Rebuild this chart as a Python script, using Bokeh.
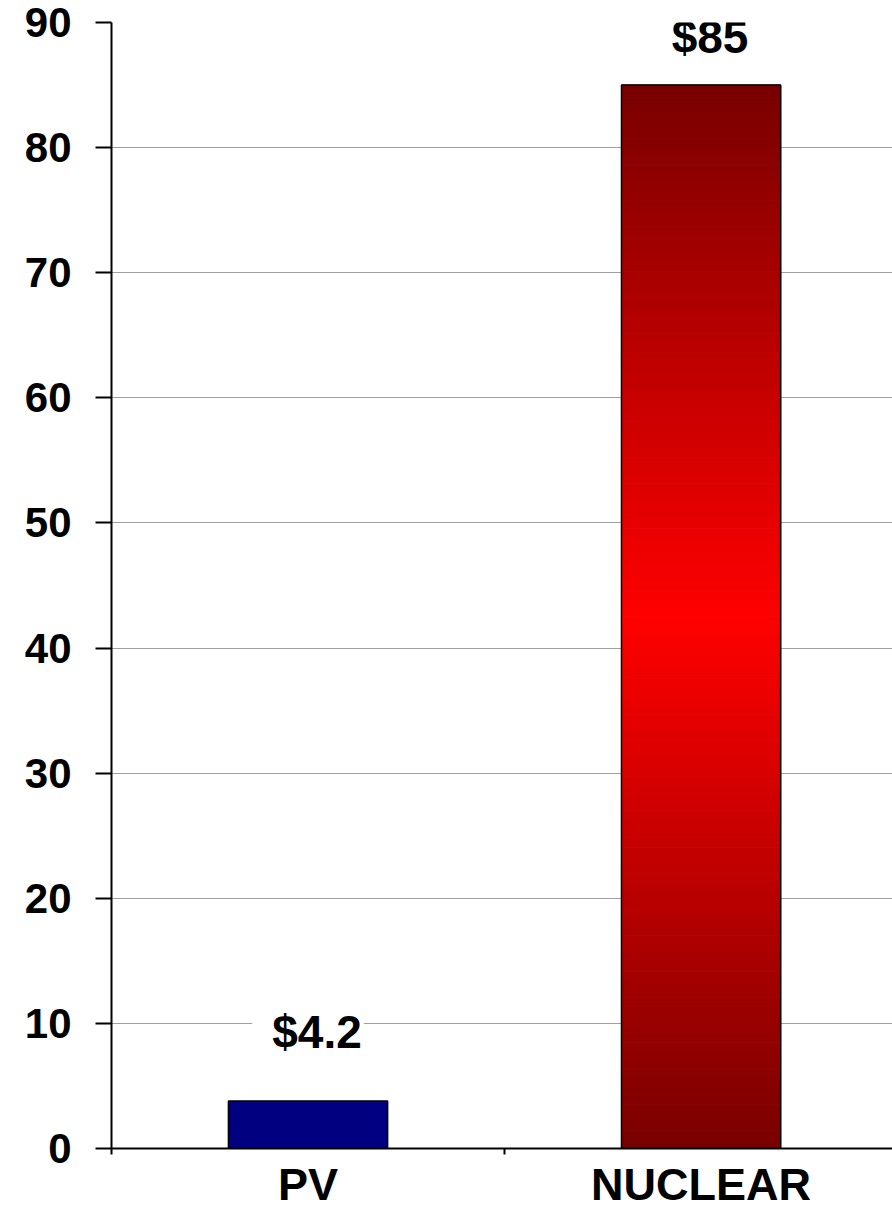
from bokeh.plotting import figure
from bokeh.models import Range1d, FixedTicker, Label
from bokeh.embed import file_html
from bokeh.resources import INLINE

categories = ["PV", "NUCLEAR"]
costs = [3.8, 85.0]
cost_labels = ["$4.2", "$85"]
y_ticks = [0, 10, 20, 30, 40, 50, 60, 70, 80, 90]

FONT = "Liberation Sans"
xpos = [i + 0.5 for i in range(len(categories))]
bar_w = 0.405
y_max = 90

p = figure(width=892, height=1212,
           x_range=Range1d(0, len(categories) - 0.013), y_range=Range1d(0, y_max),
           output_backend="svg", toolbar_location=None,
           min_border_left=111, min_border_right=0,
           min_border_top=22, min_border_bottom=64)
p.outline_line_color = None
p.background_fill_color = "white"
p.border_fill_color = "white"
p.xgrid.grid_line_color = None
p.ygrid.ticker = FixedTicker(ticks=y_ticks)
p.ygrid.grid_line_color = "#a0a0a0"
p.ygrid.grid_line_width = 1

# y axis
p.yaxis.ticker = FixedTicker(ticks=y_ticks)
p.yaxis.axis_line_width = 2
p.yaxis.axis_line_color = "black"
p.yaxis.major_tick_out = 16
p.yaxis.major_tick_in = 0
p.yaxis.major_tick_line_width = 2
p.yaxis.minor_tick_line_color = None
p.yaxis.major_label_standoff = 24
p.yaxis.major_label_text_font = FONT
p.yaxis.major_label_text_font_style = "bold"
p.yaxis.major_label_text_font_size = "42px"
p.yaxis.major_label_text_color = "black"

# x axis: labels at centres, small ticks at category boundaries
p.xaxis.ticker = FixedTicker(ticks=xpos, minor_ticks=list(range(len(categories) + 1)))
p.xaxis.major_label_overrides = {x: c for x, c in zip(xpos, categories)}
p.xaxis.axis_line_width = 2
p.xaxis.axis_line_color = "black"
p.xaxis.major_tick_line_color = None
p.xaxis.major_tick_out = 0
p.xaxis.major_tick_in = 0
p.xaxis.minor_tick_out = 6
p.xaxis.minor_tick_in = 0
p.xaxis.minor_tick_line_width = 2
p.xaxis.minor_tick_line_color = "black"
p.xaxis.major_label_standoff = 4
p.xaxis.major_label_text_font = FONT
p.xaxis.major_label_text_font_style = "bold"
p.xaxis.major_label_text_font_size = "45px"
p.xaxis.major_label_text_color = "black"

# PV bar (solid navy)
p.quad(left=[xpos[0] - bar_w / 2], right=[xpos[0] + bar_w / 2],
       bottom=[0], top=[costs[0]],
       fill_color="#000080", line_color="black", line_width=1.5)

# NUCLEAR bar with vertical gradient dark red -> red -> dark red
n = 120
v = costs[1]
lefts, rights, bots, tops, cols = [], [], [], [], []
dark = (120, 0, 0)
bright = (255, 0, 0)
for k in range(n):
    t = (k + 0.5) / n
    d = abs(t - 0.5) * 2
    r = int(round(bright[0] + (dark[0] - bright[0]) * d))
    cols.append("#%02x%02x%02x" % (r, 0, 0))
    lefts.append(xpos[1] - bar_w / 2)
    rights.append(xpos[1] + bar_w / 2)
    bots.append(v * k / n)
    tops.append(v * (k + 1) / n)
p.quad(left=lefts, right=rights, bottom=bots, top=tops,
       fill_color=cols, line_color=cols, line_width=1)
p.quad(left=[xpos[1] - bar_w / 2], right=[xpos[1] + bar_w / 2],
       bottom=[0], top=[v], fill_color=None, line_color="black", line_width=1.5)

# value labels with white background (kept inside the plot area like Excel)
for x, c, t in zip(xpos, costs, cost_labels):
    p.add_layout(Label(x=x, y=min(c + 6.2, y_max - 0.4), text=t,
                       text_font=FONT, text_font_style="bold", text_font_size="46px",
                       text_color="black", text_align="center", text_baseline="middle",
                       background_fill_color="white", padding=[20, 2, 20, 2]))

open("out.html", "w").write(file_html(p, INLINE))
